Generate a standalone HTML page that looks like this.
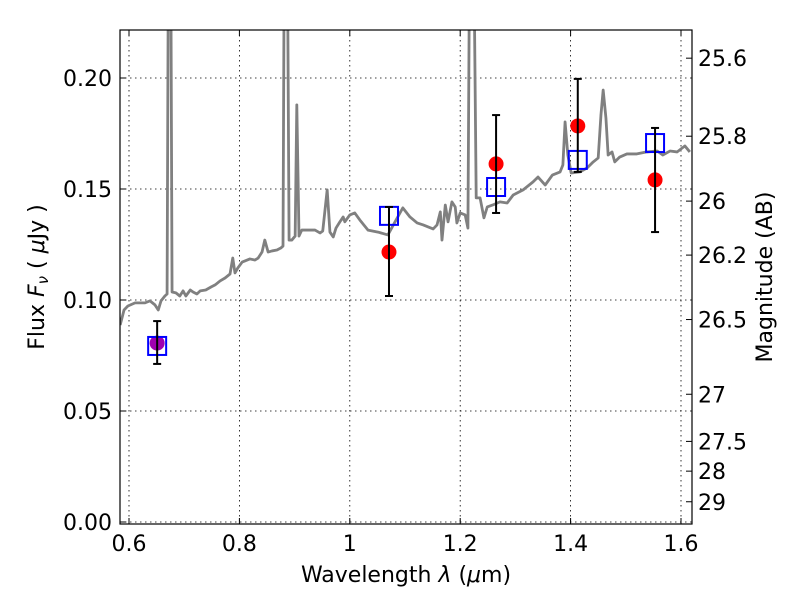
<!DOCTYPE html>
<html><head><meta charset="utf-8"><style>
body{margin:0;background:#fff}
svg text{font-family:"DejaVu Sans","Liberation Sans",sans-serif;fill:#000}
</style></head><body>
<svg id="c" width="800" height="600" xmlns="http://www.w3.org/2000/svg">
<defs><clipPath id="clip"><rect x="120" y="30" width="572" height="494"/></clipPath></defs>
<g id="grid"></g>
<g id="spec" clip-path="url(#clip)"></g>
<g id="pts" clip-path="url(#clip)"></g>
<rect x="120" y="30" width="572" height="494" fill="none" stroke="#000" stroke-width="1.2"/>
<g id="ticks"></g>
<text x="44" y="277" font-size="22" text-anchor="middle" transform="rotate(-90 44 277)">Flux  <tspan font-style="italic">F</tspan><tspan font-style="italic" font-size="15" dy="4">ν</tspan><tspan dy="-4">  ( </tspan><tspan font-style="italic">μ</tspan>Jy )</text>
<text x="772" y="277" font-size="22" text-anchor="middle" transform="rotate(-90 772 277)">Magnitude (AB)</text>
<text x="406" y="582" font-size="22" text-anchor="middle">Wavelength  <tspan font-style="italic">λ</tspan> (<tspan font-style="italic">μ</tspan>m)</text>
</svg>
<script>
const specLam=[0.584,0.591,0.598,0.611,0.629,0.638,0.647,0.653,0.658,0.665,0.669,0.672,0.675,0.678,0.685,0.692,0.698,0.703,0.711,0.716,0.723,0.729,0.739,0.749,0.756,0.765,0.774,0.783,0.788,0.792,0.797,0.805,0.814,0.819,0.828,0.834,0.841,0.846,0.852,0.859,0.868,0.875,0.879,0.882,0.886,0.890,0.895,0.901,0.904,0.908,0.913,0.928,0.937,0.946,0.951,0.959,0.964,0.970,0.975,0.982,0.988,0.991,1.000,1.009,1.018,1.033,1.051,1.069,1.082,1.096,1.109,1.122,1.133,1.142,1.151,1.158,1.164,1.167,1.173,1.178,1.185,1.191,1.194,1.200,1.209,1.214,1.218,1.223,1.229,1.236,1.243,1.249,1.259,1.272,1.285,1.296,1.314,1.332,1.341,1.354,1.367,1.381,1.386,1.390,1.395,1.401,1.417,1.430,1.441,1.450,1.455,1.459,1.464,1.468,1.475,1.480,1.489,1.502,1.520,1.538,1.557,1.567,1.580,1.593,1.607,1.616];
const specFlux=[0.0887,0.0955,0.0973,0.0987,0.0987,0.0996,0.0978,0.0955,0.0996,0.1018,0.1027,0.30,0.30,0.1036,0.1032,0.1018,0.1041,0.1018,0.1045,0.1036,0.1027,0.1041,0.1045,0.1059,0.1068,0.1086,0.1099,0.1117,0.1189,0.1122,0.1144,0.1171,0.1180,0.1185,0.1180,0.1189,0.1216,0.1270,0.1216,0.1221,0.1225,0.1234,0.1243,0.30,0.30,0.1270,0.1270,0.1288,0.1879,0.1288,0.1315,0.1315,0.1315,0.1302,0.1311,0.1496,0.1306,0.1284,0.1324,0.1352,0.1374,0.1352,0.1383,0.1392,0.1361,0.1315,0.1306,0.1293,0.1352,0.1415,0.1374,0.1347,0.1338,0.1329,0.1320,0.1338,0.1397,0.1270,0.1428,0.1352,0.1442,0.1419,0.1347,0.1392,0.1383,0.1324,0.30,0.30,0.1460,0.1460,0.1370,0.1419,0.1428,0.1442,0.1437,0.1473,0.1496,0.1532,0.1554,0.1518,0.1563,0.1577,0.1608,0.1802,0.1653,0.1572,0.1577,0.1595,0.1622,0.1640,0.1834,0.1946,0.1820,0.1653,0.1667,0.1622,0.1644,0.1658,0.1658,0.1667,0.1671,0.1653,0.1671,0.1667,0.1694,0.1667];
const obsLam=[0.651,1.071,1.265,1.413,1.553];
const obsFlux=[0.0806,0.1216,0.1613,0.1784,0.1541];
const obsLo=[0.0712,0.1018,0.1392,0.1577,0.1306];
const obsHi=[0.0905,0.1419,0.1833,0.1996,0.1775];
const modelFlux=[0.0793,0.1379,0.1509,0.1631,0.1707];
const xTicks=[0.6,0.8,1.0,1.2,1.4,1.6];
const xTickLabels=["0.6","0.8","1","1.2","1.4","1.6"];
const yTicks=[0,0.05,0.10,0.15,0.20];
const yTickLabels=["0.00","0.05","0.10","0.15","0.20"];
const magTicks=[25.6,25.8,26,26.2,26.5,27,27.5,28,29];
const magLabels=["25.6","25.8","26","26.2","26.5","27","27.5","28","29"];

const X=v=>129+(v-0.6)*552;
const Y=v=>522-v*2220;
const NS="http://www.w3.org/2000/svg";
function mk(tag,parent,attrs){const e=document.createElementNS(NS,tag);for(const k in attrs)e.setAttribute(k,attrs[k]);parent.appendChild(e);return e;}
const grid=document.getElementById('grid'),ticks=document.getElementById('ticks'),spec=document.getElementById('spec'),pts=document.getElementById('pts');

xTicks.forEach((t,i)=>{
  const g=mk('line',grid,{x1:X(t),x2:X(t),y1:30,y2:524,stroke:'#000','stroke-width':0.8,'stroke-dasharray':'1.5,3.5'});
  
  
  mk('line',ticks,{x1:X(t),x2:X(t),y1:524,y2:518,stroke:'#000'});
  mk('line',ticks,{x1:X(t),x2:X(t),y1:30,y2:36,stroke:'#000'});
  const l=mk('text',ticks,{x:X(t),y:551,'font-size':22,'text-anchor':'middle'});
  l.textContent=xTickLabels[i];
  
  
});
yTicks.forEach((t,i)=>{
  const g=mk('line',grid,{x1:120,x2:692,y1:Y(t),y2:Y(t),stroke:'#000','stroke-width':0.8,'stroke-dasharray':'1.5,3.5'});
  
  
  mk('line',ticks,{x1:120,x2:126,y1:Y(t),y2:Y(t),stroke:'#000'});
  const l=mk('text',ticks,{x:112,y:Y(t)+8,'font-size':22,'text-anchor':'end'});
  l.textContent=yTickLabels[i];
  
  
});
magTicks.forEach((m,i)=>{
  const f=Math.pow(10,(23.9-m)/2.5);
  mk('line',ticks,{x1:686,x2:692,y1:Y(f),y2:Y(f),stroke:'#000'});
  const l=mk('text',ticks,{x:698,y:Y(f)+8,'font-size':22});
  l.textContent=magLabels[i];
  
  
});

const p=mk('polyline',spec,{points:specLam.map((l,i)=>X(l)+','+Y(specFlux[i])).join(' '),fill:'none',stroke:'#808080','stroke-width':2.8,'stroke-linejoin':'round'});



obsLam.forEach((l,i)=>{
  const x=X(l);
  const c=mk('circle',pts,{cx:x,cy:Y(obsFlux[i]),r:7.5,fill:i===0?'#a000b0':'#ff0000'});
  
  
  const s=mk('rect',pts,{x:x-9,y:Y(modelFlux[i])-9,width:18,height:18,fill:'none',stroke:'#0000ff','stroke-width':2});
  
  
  const e=mk('g',pts,{stroke:'#000','stroke-width':2});
  
  
  mk('line',e,{x1:x,x2:x,y1:Y(obsLo[i]),y2:Y(obsHi[i])});
  mk('line',e,{x1:x-4,x2:x+4,y1:Y(obsLo[i]),y2:Y(obsLo[i])});
  mk('line',e,{x1:x-4,x2:x+4,y1:Y(obsHi[i]),y2:Y(obsHi[i])});
});
</script>
</body></html>
